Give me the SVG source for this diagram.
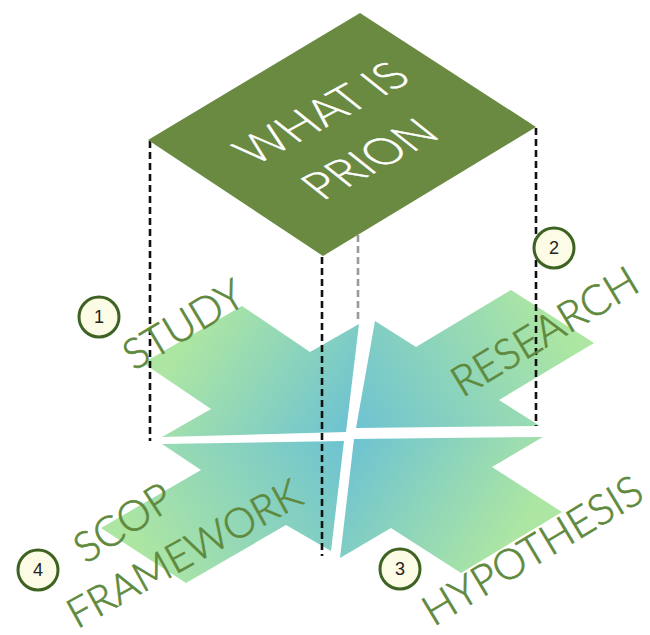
<svg xmlns="http://www.w3.org/2000/svg" width="650" height="635" viewBox="0 0 650 635">
<defs>
<linearGradient id="g1" gradientUnits="userSpaceOnUse" x1="192" y1="333" x2="350" y2="435"><stop offset="0" stop-color="#ade6a3"/><stop offset="1" stop-color="#6cc2d3"/></linearGradient>
<linearGradient id="g2" gradientUnits="userSpaceOnUse" x1="552" y1="316" x2="350" y2="435"><stop offset="0" stop-color="#ade6a3"/><stop offset="1" stop-color="#6cc2d3"/></linearGradient>
<linearGradient id="g3" gradientUnits="userSpaceOnUse" x1="511" y1="542" x2="350" y2="435"><stop offset="0" stop-color="#ade6a3"/><stop offset="1" stop-color="#6cc2d3"/></linearGradient>
<linearGradient id="g4" gradientUnits="userSpaceOnUse" x1="143" y1="557" x2="350" y2="435"><stop offset="0" stop-color="#ade6a3"/><stop offset="1" stop-color="#6cc2d3"/></linearGradient>
<style>
.dash{stroke:#111;stroke-width:2.6;stroke-dasharray:7 4;fill:none}
.gdash{stroke:#9a9a9a;stroke-width:2.6;stroke-dasharray:7 4;fill:none}
.lbl{font-family:Lato,"Open Sans","Liberation Sans",sans-serif;font-weight:300;font-size:42px;fill:#5f8a3e;stroke:#5f8a3e;stroke-width:0.7;text-anchor:middle}
.ttl{font-family:Lato,"Open Sans","Liberation Sans",sans-serif;font-weight:300;font-size:46px;fill:#ffffff;stroke:#ffffff;stroke-width:0.6;text-anchor:middle}
.circ{fill:#fcfbe6;stroke:#3e6222;stroke-width:3}
.num{font-family:"Liberation Sans Narrow","Liberation Sans",Arial,sans-serif;font-size:18px;fill:#222;text-anchor:middle}
</style>
</defs>
<g id="arrows">
<path id="arm1" d="M346,432 L162,437 L211,409 L143,363 L242,306 L310,352 L359,324 Z" fill="url(#g1)"/>
<path id="arm2" d="M356,428 L375,321 L416,347 L511,290 L594,343 L499,400 L540,426 Z" fill="url(#g2)"/>
<path id="arm3" d="M354,439 L543,437 L492,467 L562,512 L461,573 L391,528 L340,558 Z" fill="url(#g3)"/>
<path id="arm4" d="M344,441 L162,444 L201,470 L101,528 L186,583 L286,525 L331,551 Z" fill="url(#g4)"/>
</g>
<g id="connectors">
<line class="dash" x1="150" y1="141" x2="150" y2="441"/>
<line class="dash" x1="536" y1="128" x2="536" y2="426"/>
<line class="dash" x1="322" y1="257" x2="322" y2="556"/>
<line class="gdash" x1="358" y1="235" x2="358" y2="322"/>
</g>
<g id="top">
<polygon points="360,13 536,127 323,256 148,140" fill="#6a8a42"/>
<text class="ttl" transform="matrix(0.87,-0.47,0.78,0.62,334,123)">WHAT IS</text>
<text class="ttl" transform="matrix(0.87,-0.47,0.78,0.62,382,169)">PRION</text>
</g>
<g id="study">
<text class="lbl" transform="translate(191,337) rotate(-31)">STUDY</text>
<circle class="circ" cx="99" cy="317" r="20"/><text class="num" x="99" y="323">1</text>
</g>
<g id="research">
<text class="lbl" transform="translate(552,344) rotate(-31)">RESEARCH</text>
<circle class="circ" cx="554" cy="248" r="20"/><text class="num" x="554" y="254">2</text>
</g>
<g id="hypothesis">
<text class="lbl" transform="translate(540,563) rotate(-31)">HYPOTHESIS</text>
<circle class="circ" cx="400" cy="569" r="20"/><text class="num" x="400" y="575">3</text>
</g>
<g id="scop">
<text class="lbl" transform="translate(131,535) rotate(-33)">SCOP</text>
<text class="lbl" style="font-size:41px" transform="translate(191,566) rotate(-29)">FRAMEWORK</text>
<circle class="circ" cx="38" cy="570" r="20"/><text class="num" x="38" y="576">4</text>
</g>
</svg>
